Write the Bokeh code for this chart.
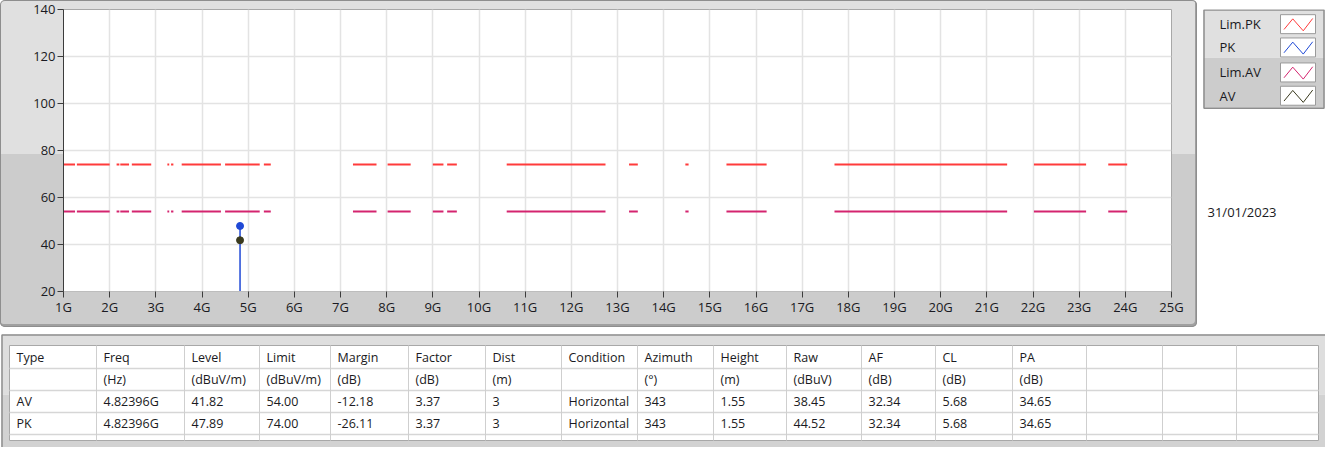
from bokeh.plotting import figure
from bokeh.layouts import column, row
from bokeh.models import Range1d, FixedTicker
from bokeh.embed import file_html
from bokeh.resources import INLINE
from bokeh.core.properties import value

# ---------------- data ----------------
band_start = [1.00, 1.29, 2.15, 2.23, 2.48, 3.25, 3.33, 3.56, 4.50, 5.34, 7.27, 8.02,
              9.00, 9.31, 10.60, 13.25, 14.47, 15.36, 17.70, 22.02, 23.63]
band_end = [1.25, 2.00, 2.21, 2.42, 2.90, 3.29, 3.38, 4.41, 5.25, 5.49, 7.78, 8.52,
            9.23, 9.52, 12.74, 13.44, 14.54, 16.23, 21.44, 23.15, 24.04]
limit_pk = 74.0
limit_av = 54.0
peak_freq = [4.82396]
peak_pk = [47.89]
peak_av = [41.82]

y_ticks = [20, 40, 60, 80, 100, 120, 140]
x_ticks = [1, 2, 3, 4, 5, 6, 7, 8, 9, 10, 11, 12, 13, 14, 15, 16, 17, 18, 19, 20,
           21, 22, 23, 24, 25]
x_tick_labels = ["1G", "2G", "3G", "4G", "5G", "6G", "7G", "8G", "9G", "10G", "11G",
                 "12G", "13G", "14G", "15G", "16G", "17G", "18G", "19G", "20G",
                 "21G", "22G", "23G", "24G", "25G"]

legend_labels = ["Lim.PK", "PK", "Lim.AV", "AV"]
date_text = "31/01/2023"

table_headers = ["Type", "Freq", "Level", "Limit", "Margin", "Factor", "Dist",
                 "Condition", "Azimuth", "Height", "Raw", "AF", "CL", "PA"]
table_units = ["", "(Hz)", "(dBuV/m)", "(dBuV/m)", "(dB)", "(dB)", "(m)", "",
               "(°)", "(m)", "(dBuV)", "(dB)", "(dB)", "(dB)"]
row_av = ["AV", "4.82396G", "41.82", "54.00", "-12.18", "3.37", "3", "Horizontal",
          "343", "1.55", "38.45", "32.34", "5.68", "34.65"]
row_pk = ["PK", "4.82396G", "47.89", "74.00", "-26.11", "3.37", "3", "Horizontal",
          "343", "1.55", "44.52", "32.34", "5.68", "34.65"]

# ---------------- styles ----------------
FONT = "Open Sans"
TXT = "#1a1a22"
LIGHT = "#e0e0e0"
DARK = "#cccccc"
C_LIMPK = "#ff3b3b"
C_PK = "#1f49d6"
C_LIMAV = "#d4246f"
C_AV = "#3a3a1e"

# ---------------- chart ----------------
CW, CH = 1197, 327
FL, FR, FT, FB = 63, 1171, 9, 291   # frame in canvas px
SPLIT = 154

p = figure(width=CW, height=CH, x_range=Range1d(1, 25), y_range=Range1d(20, 140),
           output_backend="svg", toolbar_location=None,
           min_border_left=FL, min_border_right=CW - FR,
           min_border_top=FT, min_border_bottom=CH - FB)
p.border_fill_alpha = 0
p.background_fill_color = "white"
p.outline_line_color = "#a8a8a8"
p.styles = {
    "background": f"linear-gradient(to bottom, {LIGHT} 0px, {LIGHT} {SPLIT}px, {DARK} {SPLIT}px, {DARK} 100%)",
    "border-radius": "5px",
    "box-shadow": "inset 0 0 0 1px #8e8e8e, inset -1px -2px 0 1px #a0a0a0",
}

p.xgrid.ticker = FixedTicker(ticks=x_ticks)
p.ygrid.ticker = FixedTicker(ticks=y_ticks)
p.grid.grid_line_color = "#e3e3e3"
p.grid.grid_line_width = 1.5

p.xaxis.ticker = FixedTicker(ticks=x_ticks)
p.xaxis.major_label_overrides = dict(zip(x_ticks, x_tick_labels))
p.yaxis.ticker = FixedTicker(ticks=y_ticks)
for ax in (p.xaxis, p.yaxis):
    ax.major_label_text_font = FONT
    ax.major_label_text_font_size = "13px"
    ax.major_label_text_color = TXT
    ax.major_tick_in = 0
    ax.major_tick_out = 6
    ax.major_tick_line_color = "#3c3c3c"
    ax.minor_tick_line_color = None
    ax.major_label_standoff = 2
p.xaxis.major_label_standoff = 0
p.yaxis.axis_line_color = "#3c3c3c"
p.xaxis.axis_line_color = "#bdbdbd"

p.segment(x0=band_start, x1=band_end, y0=[limit_pk] * len(band_start),
          y1=[limit_pk] * len(band_start), line_color=C_LIMPK, line_width=2)
p.segment(x0=band_start, x1=band_end, y0=[limit_av] * len(band_start),
          y1=[limit_av] * len(band_start), line_color=C_LIMAV, line_width=2)
p.segment(x0=peak_freq, x1=peak_freq, y0=[p.y_range.start] * len(peak_freq),
          y1=peak_pk, line_color=C_PK, line_width=1.5)
p.scatter(peak_freq, peak_pk, size=7, color=C_PK)
p.scatter(peak_freq, peak_av, size=7, color=C_AV)

# ---------------- side (legend + date) ----------------
SW = 128
s = figure(width=SW, height=CH, x_range=Range1d(0, SW), y_range=Range1d(CH, 0),
           output_backend="svg", toolbar_location=None, min_border=0,
           x_axis_location=None, y_axis_location=None)
s.grid.visible = False
s.outline_line_color = None
s.border_fill_color = "white"
s.background_fill_color = "white"

s.quad(left=[6], right=[127], top=[-1], bottom=[56], fill_color=LIGHT, line_color=None)
s.quad(left=[6], right=[127], top=[56], bottom=[114], fill_color=DARK, line_color=None)
s.quad(left=[6.5], right=[126.5], top=[0.5], bottom=[114.5], fill_color=None,
       line_color="#8e8e8e", line_width=1.5)

row_centers = [17, 44, 73, 100]
sw_left, sw_right, sw_h = 83, 118, 22
colors = [C_LIMPK, C_PK, C_LIMAV, C_AV]
s.quad(left=[sw_left] * 4, right=[sw_right] * 4,
       top=[c - sw_h / 2 for c in row_centers], bottom=[c + sw_h / 2 for c in row_centers],
       fill_color="white", line_color="#9a9a9a")
zig_fx = [0.1, 0.35, 0.65, 0.92]
zig_fy = [0.78, 0.22, 0.85, 0.2]
xs, ys = [], []
for c in row_centers:
    xs.append([sw_left + f * (sw_right - sw_left) for f in zig_fx])
    ys.append([c - sw_h / 2 + f * sw_h for f in zig_fy])
s.multi_line(xs=xs, ys=ys, line_color=colors, line_width=1)
s.text(x=[22] * 4, y=row_centers, text=legend_labels, text_font=value(FONT),
       text_font_size="13px", text_color=TXT, text_baseline="middle", text_align="left")
s.text(x=[10], y=[235], text=[date_text], text_font=value(FONT), text_font_size="13px",
       text_color=TXT, text_baseline="middle", text_align="left")

# ---------------- table ----------------
TW, TH = 1325, 120
t = figure(width=TW, height=TH, x_range=Range1d(0, TW), y_range=Range1d(TH, 0),
           output_backend="svg", toolbar_location=None, min_border=0,
           x_axis_location=None, y_axis_location=None)
t.grid.visible = False
t.outline_line_color = None
t.border_fill_color = "white"
t.background_fill_color = "white"

col_edges = [9, 96, 184, 259, 330, 408, 485, 561, 637, 713, 786, 861, 935, 1012,
             1086, 1162, 1236, 1318]
row_edges = [18, 41, 63, 85, 107]
tab_top, tab_bottom = 18, 113
panel_top = 7

t.quad(left=[1], right=[TW + 3], top=[panel_top], bottom=[67], fill_color="#dedede", line_color=None)
t.quad(left=[1], right=[TW + 3], top=[67], bottom=[TH + 3], fill_color="#d2d2d2", line_color=None)
t.quad(left=[1.5], right=[TW + 3], top=[panel_top + 0.5], bottom=[TH + 5], fill_color=None,
       line_color="#8e8e8e", line_width=1.5)
t.quad(left=[col_edges[0]], right=[col_edges[-1]], top=[tab_top], bottom=[tab_bottom],
       fill_color="white", line_color="#a8a8a8")
t.segment(x0=[col_edges[0]] * (len(row_edges) - 1), x1=[col_edges[-1]] * (len(row_edges) - 1),
          y0=row_edges[1:], y1=row_edges[1:], line_color="#d6d6d6", line_width=1.5)
t.segment(x0=col_edges[1:-1], x1=col_edges[1:-1], y0=[tab_top] * (len(col_edges) - 2),
          y1=[tab_bottom] * (len(col_edges) - 2), line_color="#cfcfcf", line_width=1)

tx, ty, tt = [], [], []
for r_i, rowvals in enumerate([table_headers, table_units, row_av, row_pk]):
    yc = (row_edges[r_i] + row_edges[r_i + 1]) / 2
    for c_i, v in enumerate(rowvals):
        if v:
            tx.append(col_edges[c_i] + 7)
            ty.append(yc)
            tt.append(v)
t.text(x=tx, y=ty, text=tt, text_font=value(FONT), text_font_size="12.5px",
       text_color=TXT, text_baseline="middle", text_align="left")

layout = column(row(p, s, spacing=0), t, spacing=0)
open("out.html", "w").write(file_html(layout, INLINE))
